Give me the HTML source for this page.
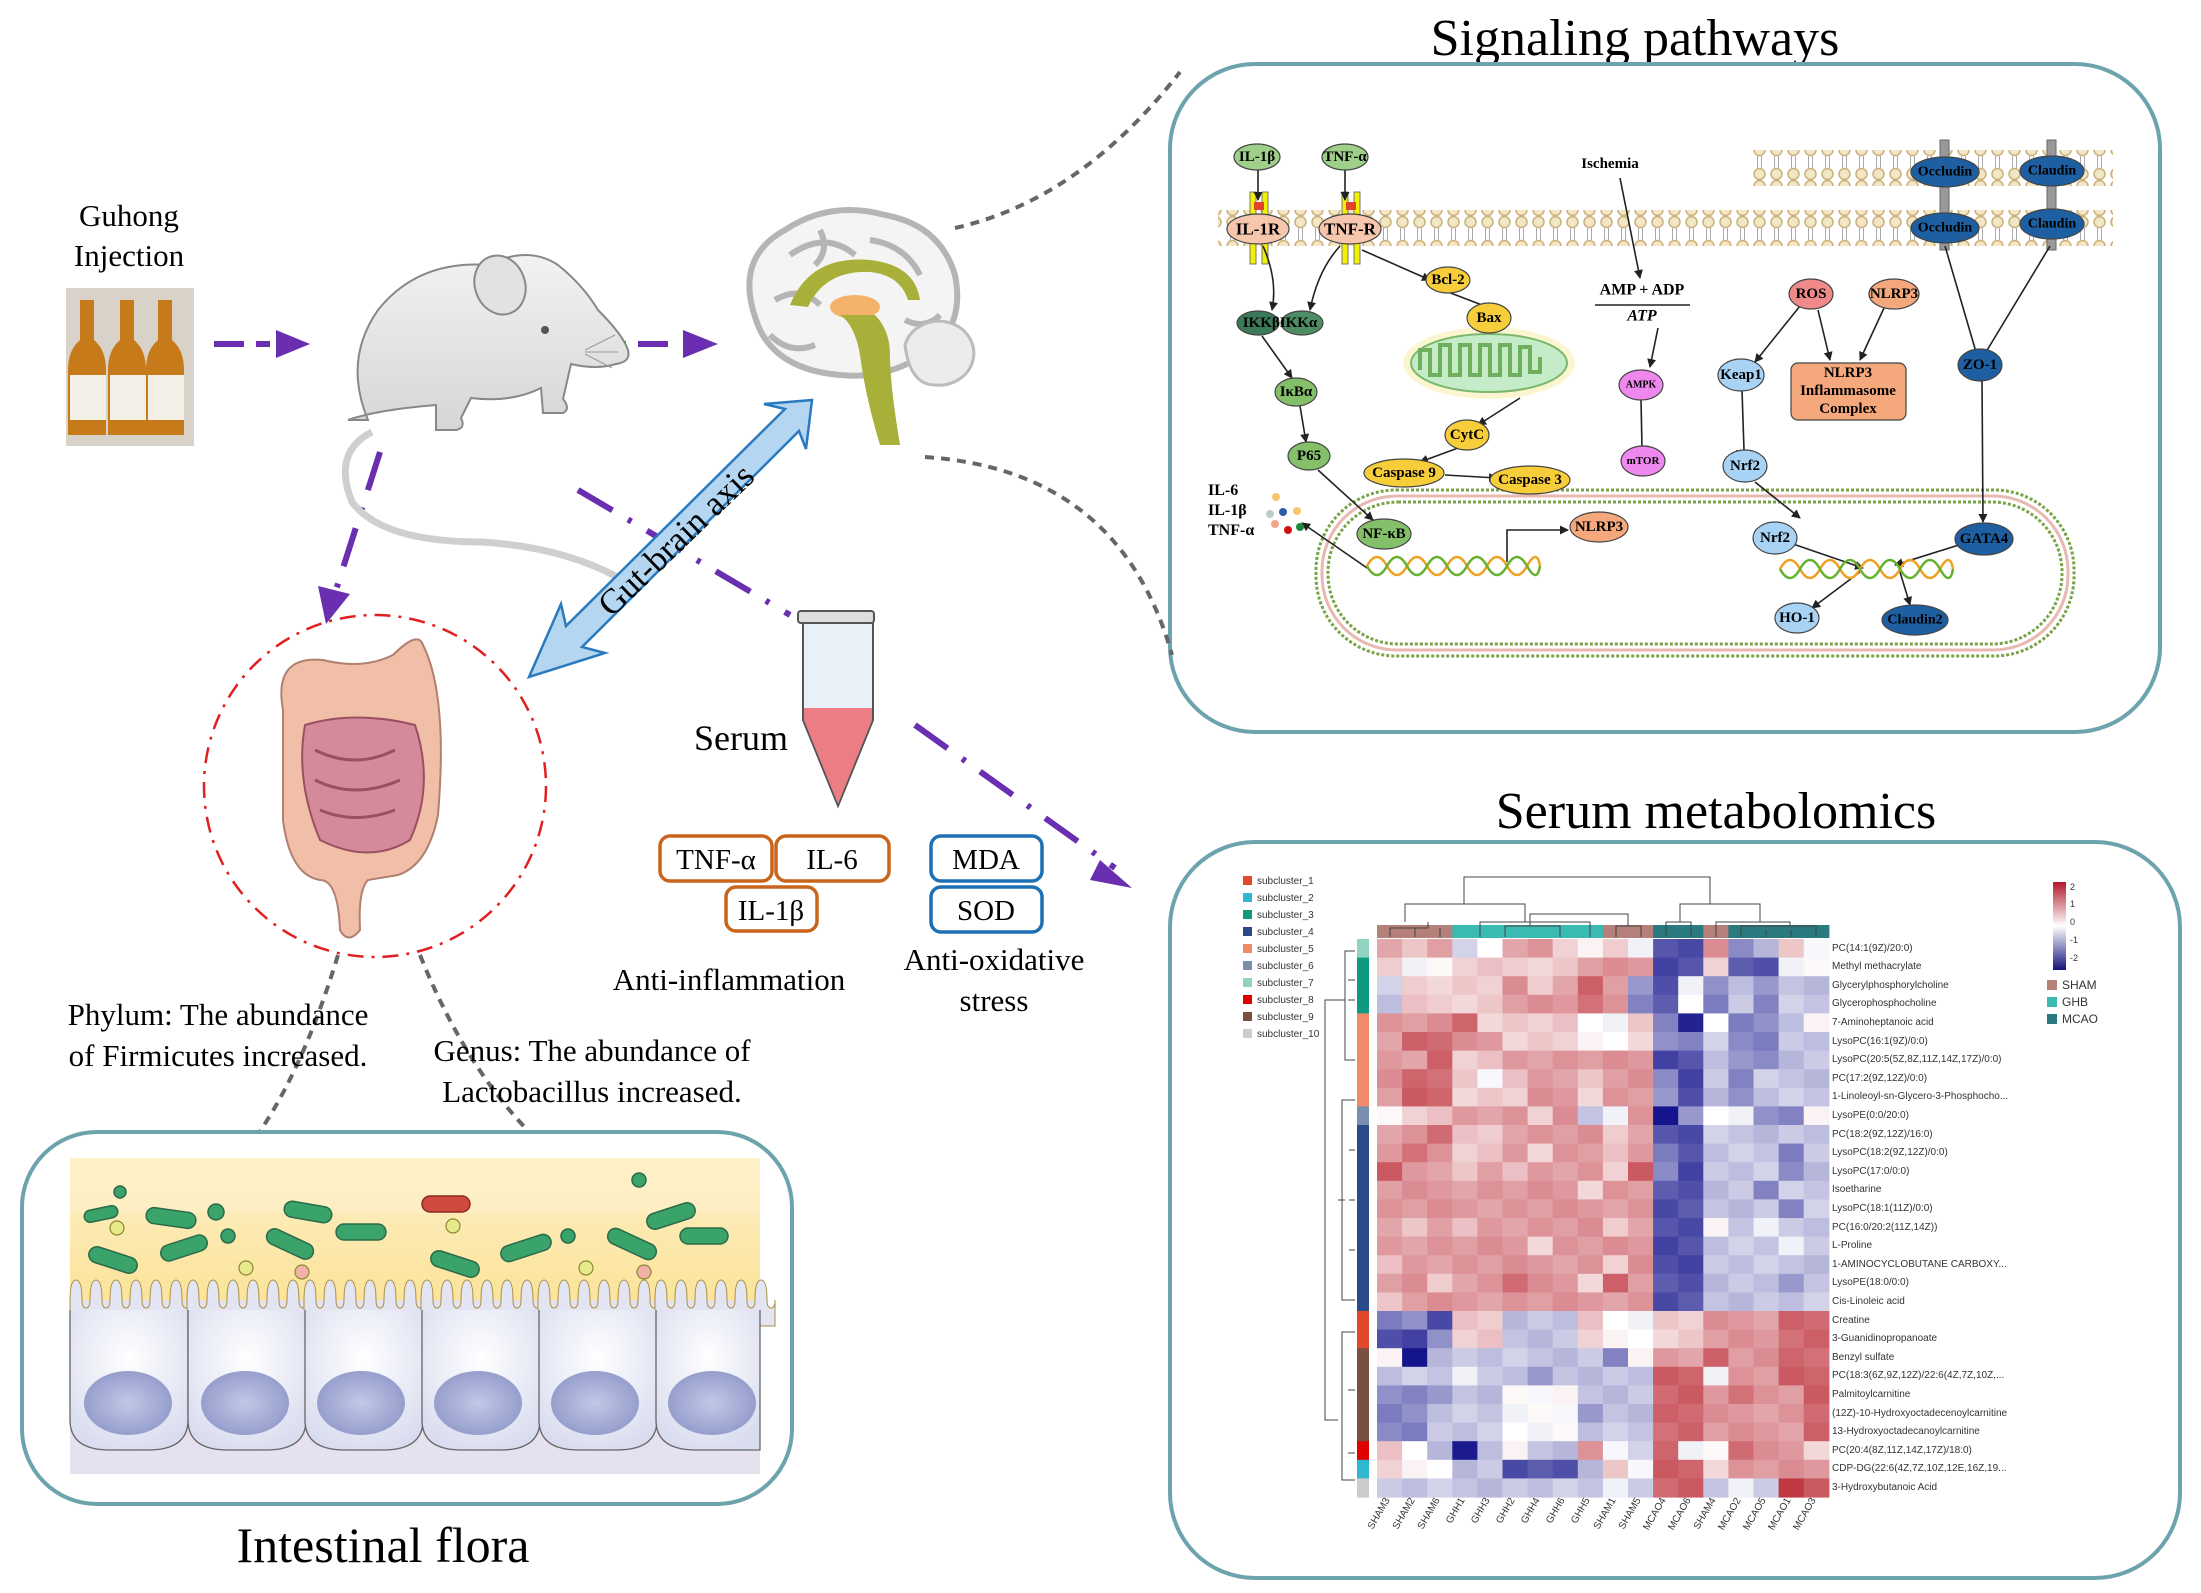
<!DOCTYPE html>
<html><head><meta charset="utf-8">
<style>
html,body{margin:0;padding:0;background:#fff;}
svg{display:block;font-family:"Liberation Serif",serif;}
.s{font-family:"Liberation Sans",sans-serif;}
.nb{font-family:"Liberation Serif",serif;font-weight:bold;font-size:17px;text-anchor:middle;dominant-baseline:central;}
</style></head>
<body>
<svg id="sv" width="2201" height="1593" viewBox="0 0 2201 1593" xmlns="http://www.w3.org/2000/svg">
<defs>
<marker id="ka" markerWidth="9" markerHeight="9" refX="8" refY="4.5" orient="auto" markerUnits="userSpaceOnUse"><path d="M0,0 L9,4.5 L0,9z" fill="#222"/></marker>
<pattern id="lip" x="0" y="0" width="17" height="36" patternUnits="userSpaceOnUse">
<circle cx="8.5" cy="6" r="5.5" fill="#f3e6c4" stroke="#c9b07a" stroke-width="1.5"/>
<circle cx="8.5" cy="30" r="5.5" fill="#f3e6c4" stroke="#c9b07a" stroke-width="1.5"/>
<line x1="6.5" y1="12" x2="6.5" y2="24" stroke="#aaa" stroke-width="1"/><line x1="10.5" y1="12" x2="10.5" y2="24" stroke="#aaa" stroke-width="1"/>
</pattern>
<linearGradient id="muc" x1="0" y1="0" x2="0" y2="1"><stop offset="0" stop-color="#fdf0c8"/><stop offset="0.45" stop-color="#fbe39a"/><stop offset="0.75" stop-color="#f8c73c"/><stop offset="1" stop-color="#f5b800"/></linearGradient>
<radialGradient id="cell" cx="0.5" cy="0.35" r="0.7"><stop offset="0" stop-color="#ffffff"/><stop offset="1" stop-color="#d9dcef"/></radialGradient>
<radialGradient id="nuc" cx="0.5" cy="0.5" r="0.6"><stop offset="0" stop-color="#c2c8e6"/><stop offset="1" stop-color="#8d96c8"/></radialGradient>
<linearGradient id="mb" x1="0" y1="0" x2="0" y2="1"><stop offset="0" stop-color="#f2f2f2"/><stop offset="1" stop-color="#d6d6d6"/></linearGradient>
</defs>

<text x="1635" y="55" font-size="52" text-anchor="middle">Signaling pathways</text>
<text x="1716" y="828" font-size="52" text-anchor="middle">Serum metabolomics</text>
<text x="383" y="1562" font-size="50" text-anchor="middle">Intestinal flora</text>

<rect x="1170" y="64" width="990" height="668" rx="85" fill="#fff" stroke="#6ca3ad" stroke-width="4"/>
<rect x="1218" y="210" width="895" height="36" fill="url(#lip)"/>
<rect x="1750" y="150" width="363" height="36" fill="url(#lip)"/>
<rect x="1316" y="490" width="758" height="166" rx="80" fill="none" stroke="#7aa246" stroke-width="3" stroke-dasharray="3 2"/>
<rect x="1322" y="496" width="746" height="154" rx="75" fill="none" stroke="#e8b9b0" stroke-width="3"/>
<rect x="1328" y="502" width="734" height="142" rx="70" fill="none" stroke="#7aa246" stroke-width="3" stroke-dasharray="3 2"/>
<g fill="#f2f200" stroke="#777" stroke-width="1">
<rect x="1250" y="192" width="6" height="72"/><rect x="1262" y="192" width="6" height="72"/>
<rect x="1342" y="192" width="6" height="72"/><rect x="1354" y="192" width="6" height="72"/>
</g>
<rect x="1254" y="202" width="10" height="8" fill="#e0442a"/><rect x="1346" y="202" width="10" height="8" fill="#e0442a"/>
<rect x="1940" y="140" width="9" height="110" fill="#999" stroke="#666"/>
<rect x="2047" y="140" width="9" height="110" fill="#999" stroke="#666"/>

<ellipse cx="1489" cy="363" rx="86" ry="36" fill="#fbf6d0"/>
<ellipse cx="1489" cy="363" rx="78" ry="29" fill="#c5ecc9" stroke="#7bb86b" stroke-width="2"/>
<path d="M1420,370 v-20 h10 v25 h10 v-30 h10 v30 h10 v-30 h10 v30 h10 v-30 h10 v30 h10 v-30 h10 v30 h10 v-28 h10 v25 h10 v-15" fill="none" stroke="#6fae5a" stroke-width="4"/>

<g stroke="#222" stroke-width="1.6" fill="none" marker-end="url(#ka)">
<line x1="1258" y1="170" x2="1258" y2="200"/>
<line x1="1345" y1="170" x2="1345" y2="200"/>
<path d="M1263,246 Q1278,280 1272,310"/>
<path d="M1340,246 Q1318,270 1310,310"/>
<line x1="1362" y1="250" x2="1430" y2="280"/>
<line x1="1262" y1="336" x2="1292" y2="378"/>
<line x1="1300" y1="406" x2="1306" y2="442"/>
<line x1="1318" y1="470" x2="1373" y2="520"/>
<line x1="1520" y1="398" x2="1478" y2="425"/>
<line x1="1458" y1="448" x2="1420" y2="462"/>
<line x1="1445" y1="475" x2="1497" y2="478"/>
<line x1="1620" y1="178" x2="1640" y2="278"/>
<line x1="1658" y1="328" x2="1650" y2="367"/>
<line x1="1370" y1="570" x2="1302" y2="523"/>
<line x1="1800" y1="306" x2="1755" y2="362"/>
<line x1="1818" y1="310" x2="1830" y2="360"/>
<line x1="1884" y1="308" x2="1860" y2="360"/>
<line x1="1755" y1="482" x2="1800" y2="518"/>
<line x1="1793" y1="544" x2="1863" y2="568"/>
<line x1="1962" y1="544" x2="1895" y2="565"/>
<line x1="1860" y1="572" x2="1812" y2="608"/>
<line x1="1900" y1="572" x2="1910" y2="605"/>
<line x1="1982" y1="380" x2="1983" y2="522"/>
<path d="M1507,562 V530 H1568"/>
</g>
<g stroke="#222" stroke-width="1.6" fill="none">
<line x1="1448" y1="292" x2="1482" y2="305"/>
<line x1="1641" y1="400" x2="1642" y2="448"/><line x1="1634" y1="448" x2="1650" y2="448"/>
<line x1="1742" y1="390" x2="1744" y2="450"/><line x1="1736" y1="451" x2="1752" y2="451"/>
<line x1="1945" y1="246" x2="1976" y2="352"/>
<line x1="2050" y1="246" x2="1986" y2="352"/>
<line x1="1595" y1="305" x2="1690" y2="305"/>
</g>

<g fill="none" stroke-width="2.5">
<path d="M1367,566 q10,-18 20,0 t20,0 t20,0 t20,0 t20,0 t20,0 t20,0 t20,0 t13,0" stroke="#f0a020"/>
<path d="M1367,566 q10,18 20,0 t20,0 t20,0 t20,0 t20,0 t20,0 t20,0 t20,0 t13,0" stroke="#68b030"/>
<path d="M1780,569 q10,-18 20,0 t20,0 t20,0 t20,0 t20,0 t20,0 t20,0 t20,0 t13,0" stroke="#f0a020"/>
<path d="M1780,569 q10,18 20,0 t20,0 t20,0 t20,0 t20,0 t20,0 t20,0 t20,0 t13,0" stroke="#68b030"/>
</g>
<g><circle cx="1276" cy="497" r="4" fill="#f6c56a"/><circle cx="1283" cy="512" r="4" fill="#2a5fa8"/><circle cx="1270" cy="514" r="4" fill="#bcc"/><circle cx="1297" cy="511" r="4" fill="#f6c56a"/><circle cx="1275" cy="524" r="4" fill="#f2a585"/><circle cx="1288" cy="530" r="4" fill="#d01010"/><circle cx="1300" cy="527" r="4" fill="#1a8a3a"/></g>
<text x="1208" y="495" font-size="16" font-weight="bold">IL-6</text>
<text x="1208" y="515" font-size="16" font-weight="bold">IL-1β</text>
<text x="1208" y="535" font-size="16" font-weight="bold">TNF-α</text>

<g stroke="#444" stroke-width="1.2">
<ellipse cx="1257" cy="157" rx="23" ry="13" fill="#9fd08a"/>
<ellipse cx="1345" cy="157" rx="23" ry="13" fill="#9fd08a"/>
<ellipse cx="1258" cy="229" rx="31" ry="15" fill="#f6c7ad"/>
<ellipse cx="1350" cy="229" rx="31" ry="15" fill="#f6c7ad"/>
<ellipse cx="1258" cy="323" rx="21" ry="12" fill="#3b7a58"/>
<ellipse cx="1302" cy="323" rx="21" ry="12" fill="#4e8d64"/>
<ellipse cx="1296" cy="392" rx="21" ry="14" fill="#84c06a"/>
<ellipse cx="1309" cy="456" rx="21" ry="14" fill="#84c06a"/>
<ellipse cx="1384" cy="534" rx="27" ry="15" fill="#84c06a"/>
<ellipse cx="1448" cy="280" rx="22" ry="13" fill="#f7cd3a"/>
<ellipse cx="1489" cy="318" rx="22" ry="15" fill="#f7cd3a"/>
<ellipse cx="1467" cy="435" rx="22" ry="15" fill="#f7cd3a"/>
<ellipse cx="1404" cy="473" rx="40" ry="14" fill="#f7cd3a"/>
<ellipse cx="1530" cy="480" rx="40" ry="14" fill="#f7cd3a"/>
<ellipse cx="1641" cy="385" rx="22" ry="15" fill="#ee88ee"/>
<ellipse cx="1643" cy="461" rx="22" ry="15" fill="#ee88ee"/>
<ellipse cx="1599" cy="527" rx="29" ry="15" fill="#f4a87c"/>
<ellipse cx="1811" cy="294" rx="22" ry="15" fill="#f08a8a"/>
<ellipse cx="1894" cy="294" rx="25" ry="15" fill="#f4a87c"/>
<rect x="1791" y="363" width="115" height="57" rx="7" fill="#f4a87c"/>
<ellipse cx="1741" cy="375" rx="23" ry="16" fill="#a9d3f5"/>
<ellipse cx="1745" cy="466" rx="22" ry="16" fill="#a9d3f5"/>
<ellipse cx="1775" cy="538" rx="22" ry="16" fill="#a9d3f5"/>
<ellipse cx="1797" cy="618" rx="22" ry="15" fill="#a9d3f5"/>
<ellipse cx="1915" cy="620" rx="33" ry="15" fill="#1d5fa0"/>
<ellipse cx="1984" cy="539" rx="29" ry="16" fill="#1d5fa0"/>
<ellipse cx="1980" cy="365" rx="22" ry="16" fill="#1d5fa0"/>
<ellipse cx="1945" cy="172" rx="34" ry="15" fill="#1d5fa0"/>
<ellipse cx="1945" cy="228" rx="34" ry="15" fill="#1d5fa0"/>
<ellipse cx="2052" cy="171" rx="32" ry="15" fill="#1d5fa0"/>
<ellipse cx="2052" cy="224" rx="32" ry="15" fill="#1d5fa0"/>
</g>
<g class="nb">
<text x="1257" y="157" font-size="15">IL-1β</text>
<text x="1345" y="157" font-size="15">TNF-α</text>
<text x="1258" y="229">IL-1R</text>
<text x="1350" y="229">TNF-R</text>
<text x="1280" y="323" font-size="15">IKKβIKKα</text>
<text x="1296" y="392" font-size="15">IκBα</text>
<text x="1309" y="456" font-size="15">P65</text>
<text x="1384" y="534" font-size="15">NF-κB</text>
<text x="1448" y="280" font-size="15">Bcl-2</text>
<text x="1489" y="318" font-size="15">Bax</text>
<text x="1467" y="435" font-size="15">CytC</text>
<text x="1404" y="473" font-size="15">Caspase 9</text>
<text x="1530" y="480" font-size="15">Caspase 3</text>
<text x="1641" y="385" font-size="10">AMPK</text>
<text x="1643" y="461" font-size="11">mTOR</text>
<text x="1599" y="527" font-size="15">NLRP3</text>
<text x="1811" y="294" font-size="15">ROS</text>
<text x="1894" y="294" font-size="15">NLRP3</text>
<text x="1848" y="373" font-size="15">NLRP3</text>
<text x="1848" y="391" font-size="15">Inflammasome</text>
<text x="1848" y="409" font-size="15">Complex</text>
<text x="1741" y="375" font-size="15">Keap1</text>
<text x="1745" y="466" font-size="15">Nrf2</text>
<text x="1775" y="538" font-size="15">Nrf2</text>
<text x="1797" y="618" font-size="15">HO-1</text>
<text x="1915" y="620" font-size="14">Claudin2</text>
<text x="1984" y="539" font-size="15">GATA4</text>
<text x="1980" y="365" font-size="15">ZO-1</text>
<text x="1945" y="172" font-size="14">Occludin</text>
<text x="1945" y="228" font-size="14">Occludin</text>
<text x="2052" y="171" font-size="14">Claudin</text>
<text x="2052" y="224" font-size="14">Claudin</text>
<text x="1610" y="164" font-size="15">Ischemia</text>
<text x="1642" y="290" font-size="16">AMP + ADP</text>
<text x="1642" y="316" font-size="16" font-style="italic">ATP</text>
</g>

<rect x="1170" y="842" width="1010" height="736" rx="85" fill="#fff" stroke="#6ca3ad" stroke-width="4"/>
<g id="hm"></g>
<g class="s" font-size="10" fill="#333">
<rect x="1243" y="876" width="9" height="9" fill="#e04a2a"/><text x="1257" y="884">subcluster_1</text>
<rect x="1243" y="893" width="9" height="9" fill="#30b8d0"/><text x="1257" y="901">subcluster_2</text>
<rect x="1243" y="910" width="9" height="9" fill="#0f9a80"/><text x="1257" y="918">subcluster_3</text>
<rect x="1243" y="927" width="9" height="9" fill="#2a4a8a"/><text x="1257" y="935">subcluster_4</text>
<rect x="1243" y="944" width="9" height="9" fill="#f08a6a"/><text x="1257" y="952">subcluster_5</text>
<rect x="1243" y="961" width="9" height="9" fill="#7a8fb0"/><text x="1257" y="969">subcluster_6</text>
<rect x="1243" y="978" width="9" height="9" fill="#8fd3c0"/><text x="1257" y="986">subcluster_7</text>
<rect x="1243" y="995" width="9" height="9" fill="#e00000"/><text x="1257" y="1003">subcluster_8</text>
<rect x="1243" y="1012" width="9" height="9" fill="#7a5040"/><text x="1257" y="1020">subcluster_9</text>
<rect x="1243" y="1029" width="9" height="9" fill="#cccccc"/><text x="1257" y="1037">subcluster_10</text>
</g>
<defs><linearGradient id="cs" x1="0" y1="0" x2="0" y2="1"><stop offset="0" stop-color="#b2182b"/><stop offset="0.5" stop-color="#ffffff"/><stop offset="1" stop-color="#14147e"/></linearGradient></defs>
<rect x="2053" y="882" width="13" height="88" fill="url(#cs)"/>
<g class="s" font-size="9" fill="#333"><text x="2070" y="890">2</text><text x="2070" y="907">1</text><text x="2070" y="925">0</text><text x="2070" y="943">-1</text><text x="2070" y="961">-2</text></g>
<g class="s" font-size="12" fill="#333">
<rect x="2047" y="980" width="10" height="10" fill="#b57f7a"/><text x="2062" y="989">SHAM</text>
<rect x="2047" y="997" width="10" height="10" fill="#3bbab2"/><text x="2062" y="1006">GHB</text>
<rect x="2047" y="1014" width="10" height="10" fill="#2a7a80"/><text x="2062" y="1023">MCAO</text>
</g>
<g class="s" font-size="10" fill="#333">
<text x="1832" y="951">PC(14:1(9Z)/20:0)</text>
<text x="1832" y="969">Methyl methacrylate</text>
<text x="1832" y="988">Glycerylphosphorylcholine</text>
<text x="1832" y="1006">Glycerophosphocholine</text>
<text x="1832" y="1025">7-Aminoheptanoic acid</text>
<text x="1832" y="1044">LysoPC(16:1(9Z)/0:0)</text>
<text x="1832" y="1062">LysoPC(20:5(5Z,8Z,11Z,14Z,17Z)/0:0)</text>
<text x="1832" y="1081">PC(17:2(9Z,12Z)/0:0)</text>
<text x="1832" y="1099">1-Linoleoyl-sn-Glycero-3-Phosphocho...</text>
<text x="1832" y="1118">LysoPE(0:0/20:0)</text>
<text x="1832" y="1137">PC(18:2(9Z,12Z)/16:0)</text>
<text x="1832" y="1155">LysoPC(18:2(9Z,12Z)/0:0)</text>
<text x="1832" y="1174">LysoPC(17:0/0:0)</text>
<text x="1832" y="1192">Isoetharine</text>
<text x="1832" y="1211">LysoPC(18:1(11Z)/0:0)</text>
<text x="1832" y="1230">PC(16:0/20:2(11Z,14Z))</text>
<text x="1832" y="1248">L-Proline</text>
<text x="1832" y="1267">1-AMINOCYCLOBUTANE CARBOXY...</text>
<text x="1832" y="1285">LysoPE(18:0/0:0)</text>
<text x="1832" y="1304">Cis-Linoleic acid</text>
<text x="1832" y="1323">Creatine</text>
<text x="1832" y="1341">3-Guanidinopropanoate</text>
<text x="1832" y="1360">Benzyl sulfate</text>
<text x="1832" y="1378">PC(18:3(6Z,9Z,12Z)/22:6(4Z,7Z,10Z,...</text>
<text x="1832" y="1397">Palmitoylcarnitine</text>
<text x="1832" y="1416">(12Z)-10-Hydroxyoctadecenoylcarnitine</text>
<text x="1832" y="1434">13-Hydroxyoctadecanoylcarnitine</text>
<text x="1832" y="1453">PC(20:4(8Z,11Z,14Z,17Z)/18:0)</text>
<text x="1832" y="1471">CDP-DG(22:6(4Z,7Z,10Z,12E,16Z,19...</text>
<text x="1832" y="1490">3-Hydroxybutanoic Acid</text>
</g>
<g class="s" font-size="10" fill="#333">
<text transform="translate(1390,1500) rotate(-60)" text-anchor="end">SHAM3</text>
<text transform="translate(1415,1500) rotate(-60)" text-anchor="end">SHAM2</text>
<text transform="translate(1440,1500) rotate(-60)" text-anchor="end">SHAM6</text>
<text transform="translate(1465,1500) rotate(-60)" text-anchor="end">GHH1</text>
<text transform="translate(1490,1500) rotate(-60)" text-anchor="end">GHH3</text>
<text transform="translate(1515,1500) rotate(-60)" text-anchor="end">GHH2</text>
<text transform="translate(1540,1500) rotate(-60)" text-anchor="end">GHH4</text>
<text transform="translate(1565,1500) rotate(-60)" text-anchor="end">GHH6</text>
<text transform="translate(1590,1500) rotate(-60)" text-anchor="end">GHH5</text>
<text transform="translate(1616,1500) rotate(-60)" text-anchor="end">SHAM1</text>
<text transform="translate(1641,1500) rotate(-60)" text-anchor="end">SHAM5</text>
<text transform="translate(1666,1500) rotate(-60)" text-anchor="end">MCAO4</text>
<text transform="translate(1691,1500) rotate(-60)" text-anchor="end">MCAO6</text>
<text transform="translate(1716,1500) rotate(-60)" text-anchor="end">SHAM4</text>
<text transform="translate(1741,1500) rotate(-60)" text-anchor="end">MCAO2</text>
<text transform="translate(1766,1500) rotate(-60)" text-anchor="end">MCAO5</text>
<text transform="translate(1791,1500) rotate(-60)" text-anchor="end">MCAO1</text>
<text transform="translate(1816,1500) rotate(-60)" text-anchor="end">MCAO3</text>
</g>
<g stroke="#444" stroke-width="1" fill="none">
<path d="M1464,904 V877 H1710 V904"/>
<path d="M1405,922 V904 H1525 V922"/>
<path d="M1390,937 V928 H1428 V922"/><path d="M1415,937 V928"/><path d="M1440,937 V928"/>
<path d="M1480,937 V922 H1590 V937"/><path d="M1505,937 V926 H1560 V937"/>
<path d="M1616,937 V926 H1641 V937"/><path d="M1530,926 V914 H1628 V926"/>
<path d="M1680,922 V904 H1760 V922"/><path d="M1666,937 V922 H1691 V937"/>
<path d="M1716,937 V922 H1790 V926"/><path d="M1741,937 V926 H1816 V937"/><path d="M1766,937 V930"/><path d="M1791,937 V930"/>
</g>
<g stroke="#444" stroke-width="1" fill="none">
<path d="M1338,1000 H1325 V1420 H1338"/>
<path d="M1355,951 H1345 V1060 H1355"/><path d="M1355,980 H1348"/><path d="M1355,1000 H1348"/>
<path d="M1338,1000 H1345"/><path d="M1345,1200 H1338"/>
<path d="M1355,1100 H1342 V1300 H1355"/><path d="M1355,1200 H1349"/><path d="M1355,1150 H1349"/><path d="M1355,1250 H1349"/>
<path d="M1355,1332 H1342 V1480 H1355"/><path d="M1355,1390 H1348"/><path d="M1355,1453 H1348"/>
</g>
<g stroke="#666" stroke-width="4" fill="none" stroke-dasharray="9 7">
<path d="M955,228 Q1080,200 1180,72"/>
<path d="M925,457 Q1120,470 1172,655"/>
<path d="M338,955 Q300,1080 248,1148"/>
<path d="M420,955 Q470,1080 548,1150"/>
</g>

<rect x="22" y="1132" width="770" height="372" rx="75" fill="#fff" stroke="#6ca3ad" stroke-width="4"/>
<rect x="70" y="1158" width="690" height="316" fill="url(#muc)"/>
<rect x="70" y="1158" width="690" height="55" fill="#fdf0c8" opacity="0.7"/>
<rect x="70" y="1300" width="690" height="174" fill="#e5e1ee"/>
<path id="vl" d="M70,1300 q0,-20 6,-20 q6,0 6,20 q0,8 4,8 q4,0 4,-8 q0,-20 6,-20 q6,0 6,20 q0,8 4,8 q4,0 4,-8 q0,-20 6,-20 q6,0 6,20 q0,8 4,8 q4,0 4,-8 q0,-20 6,-20 q6,0 6,20 q0,8 4,8 q4,0 4,-8 q0,-20 6,-20 q6,0 6,20 q0,8 4,8 q4,0 4,-8 q0,-20 6,-20 q6,0 6,20 q0,8 4,8 q4,0 4,-8 V1326 H70z" fill="#e3e6f2" stroke="#a89040" stroke-width="1"/>
<use href="#vl" x="117"/><use href="#vl" x="234"/><use href="#vl" x="351"/><use href="#vl" x="468"/><use href="#vl" x="585"/>
<g stroke="#666" stroke-width="1.3">
<path d="M70,1310 V1420 q0,30 40,30 h38 q40,0 40,-30 V1310" fill="url(#cell)"/>
<path d="M188,1310 V1420 q0,30 40,30 h38 q40,0 40,-30 V1310" fill="url(#cell)"/>
<path d="M305,1310 V1420 q0,30 40,30 h38 q40,0 40,-30 V1310" fill="url(#cell)"/>
<path d="M422,1310 V1420 q0,30 40,30 h38 q40,0 40,-30 V1310" fill="url(#cell)"/>
<path d="M539,1310 V1420 q0,30 40,30 h38 q40,0 40,-30 V1310" fill="url(#cell)"/>
<path d="M656,1310 V1420 q0,30 40,30 h64 V1310" fill="url(#cell)"/>
</g>
<g fill="url(#nuc)">
<ellipse cx="128" cy="1403" rx="44" ry="32"/><ellipse cx="245" cy="1403" rx="44" ry="32"/><ellipse cx="361" cy="1403" rx="44" ry="32"/><ellipse cx="478" cy="1403" rx="44" ry="32"/><ellipse cx="595" cy="1403" rx="44" ry="32"/><ellipse cx="712" cy="1403" rx="44" ry="32"/>
</g>
<g fill="#3aa36a" stroke="#2a6a4a" stroke-width="1.5">
<rect x="84" y="1208" width="34" height="12" rx="6" transform="rotate(-12 101 1214)"/>
<rect x="146" y="1210" width="50" height="16" rx="8" transform="rotate(8 171 1218)"/>
<rect x="160" y="1240" width="48" height="16" rx="8" transform="rotate(-18 184 1248)"/>
<rect x="88" y="1252" width="50" height="16" rx="8" transform="rotate(18 113 1260)"/>
<rect x="284" y="1204" width="48" height="16" rx="8" transform="rotate(10 308 1212)"/>
<rect x="265" y="1236" width="50" height="16" rx="8" transform="rotate(25 290 1244)"/>
<rect x="336" y="1224" width="50" height="16" rx="8"/>
<rect x="430" y="1256" width="50" height="16" rx="8" transform="rotate(18 455 1264)"/>
<rect x="500" y="1240" width="52" height="16" rx="8" transform="rotate(-18 526 1248)"/>
<rect x="606" y="1236" width="52" height="16" rx="8" transform="rotate(25 632 1244)"/>
<rect x="646" y="1208" width="50" height="16" rx="8" transform="rotate(-18 671 1216)"/>
<rect x="680" y="1228" width="48" height="16" rx="8"/>
<circle cx="120" cy="1192" r="6"/><circle cx="216" cy="1212" r="8"/><circle cx="228" cy="1236" r="7"/><circle cx="568" cy="1236" r="7"/><circle cx="639" cy="1180" r="7"/>
</g>
<rect x="422" y="1196" width="48" height="16" rx="8" fill="#d04a40" stroke="#8a2a20" stroke-width="1.5"/>
<g stroke="#8a8a30" stroke-width="1.2"><circle cx="117" cy="1228" r="7" fill="#e6ea8a"/><circle cx="246" cy="1268" r="7" fill="#e6ea8a"/><circle cx="453" cy="1226" r="7" fill="#e6ea8a"/><circle cx="586" cy="1268" r="7" fill="#e6ea8a"/><circle cx="302" cy="1272" r="7" fill="#f2b0a8"/><circle cx="644" cy="1272" r="7" fill="#f2b0a8"/></g>

<text x="129" y="226" font-size="31" text-anchor="middle">Guhong</text>
<text x="129" y="266" font-size="31" text-anchor="middle">Injection</text>
<rect x="66" y="288" width="128" height="158" fill="#d8d2c8"/>
<g>
<path d="M80,300 h14 v40 q12,10 12,30 v65 h-38 v-65 q0,-20 12,-30z" fill="#c77a1a"/>
<path d="M120,300 h14 v40 q12,10 12,30 v65 h-38 v-65 q0,-20 12,-30z" fill="#c77a1a"/>
<path d="M158,300 h14 v40 q12,10 12,30 v65 h-38 v-65 q0,-20 12,-30z" fill="#c77a1a"/>
<rect x="70" y="375" width="36" height="45" fill="#f2efe6"/><rect x="110" y="375" width="36" height="45" fill="#f2efe6"/><rect x="148" y="375" width="36" height="45" fill="#f2efe6"/>
</g>
<g stroke="#6a2fb0" stroke-width="6" fill="none" stroke-dasharray="30 12">
<line x1="214" y1="344" x2="270" y2="344"/>
<line x1="596" y1="344" x2="680" y2="344"/>
</g>
<path d="M276,330 L310,344 L276,358z" fill="#6a2fb0"/>
<path d="M683,330 L718,344 L683,358z" fill="#6a2fb0"/>
<g stroke="#6a2fb0" stroke-width="6" fill="none" stroke-dasharray="40 18 4 18">
<line x1="380" y1="452" x2="336" y2="590"/>
<line x1="578" y1="490" x2="790" y2="615"/>
<line x1="915" y1="725" x2="1115" y2="868"/>
</g>
<path d="M318,586 L350,594 L326,624z" fill="#6a2fb0"/>
<path d="M1100,860 L1132,888 L1090,880z" fill="#6a2fb0"/>
<!-- mouse -->
<g stroke="#888" stroke-width="2">
<path d="M372,432 q-40,20 -20,70 q30,40 130,40 q80,5 135,35" fill="none" stroke="#cfcfcf" stroke-width="7"/>
<path d="M368,420 q-25,-60 10,-110 q40,-50 110,-45 q40,-20 70,0 q25,20 40,45 q25,25 30,40 q3,12 -12,14 q-20,6 -45,0 l-8,35 q8,10 0,14 h-20 l-2,-25 q-30,15 -70,10 l-10,20 q5,10 -5,12 h-20 l0,-25 q-60,5 -88,15z" fill="url(#mb)"/>
<ellipse cx="500" cy="285" rx="25" ry="30" fill="#e2e2e2" transform="rotate(-20 500 285)"/>
</g>
<circle cx="545" cy="330" r="4" fill="#555"/>
<g stroke="#999" stroke-width="1"><line x1="585" y1="350" x2="615" y2="335"/><line x1="585" y1="352" x2="618" y2="352"/><line x1="585" y1="354" x2="612" y2="368"/></g>
<!-- brain -->
<g>
<path d="M760,330 q-30,-70 25,-100 q45,-30 100,-15 q55,10 70,60 q10,50 -25,75 q-40,30 -90,25 q-60,-5 -80,-45z" fill="#f4f4f4" stroke="#b5b5b5" stroke-width="6"/>
<path d="M775,300 q25,-15 45,5 M790,255 q35,-25 65,0 M870,240 q35,5 50,35 M770,335 q20,20 45,10 M905,320 q20,10 35,-5 M820,230 q10,20 -5,35" stroke="#b5b5b5" stroke-width="6" fill="none"/>
<path d="M790,305 q20,-50 80,-45 q45,5 50,40 l-12,0 q-8,-25 -38,-28 q-45,-2 -62,35z" fill="#a9b03a"/>
<ellipse cx="855" cy="307" rx="25" ry="12" fill="#f5b26a"/>
<path d="M840,315 q15,10 20,40 q5,40 20,90 l20,0 q-10,-60 -10,-90 q0,-25 -15,-40z" fill="#a9b03a"/>
<path d="M905,345 a35,32 0 1,1 30,40 q-25,0 -30,-40z" fill="#ececec" stroke="#bbb" stroke-width="3"/>
</g>
<path d="M529,677 L561,604 L566,626 L785,409 L764,404 L812,400 L806,449 L799,431 L582,647 L605,653 Z" fill="#b5d6f0" stroke="#2a7ac0" stroke-width="2.5"/>
<text transform="translate(676,540) rotate(-44)" font-size="35" text-anchor="middle" dominant-baseline="central">Gut-brain axis</text>
<circle cx="375" cy="786" r="171" fill="none" stroke="#e02020" stroke-width="2.5" stroke-dasharray="16 8 3 8"/>
<g>
<path d="M283,710 q-10,-55 40,-50 q40,10 70,-5 q25,-25 30,-10 q25,50 15,170 q-10,50 -40,60 l-30,5 q-10,10 -8,50 q-12,15 -20,0 q-2,-50 -20,-50 q-30,-5 -37,-60z" fill="#f1bfa8" stroke="#b08070" stroke-width="2"/>
<path d="M305,725 q50,-15 110,0 q20,60 -5,115 q-40,25 -90,0 q-25,-60 -15,-115z" fill="#d48a9a" stroke="#9a5060" stroke-width="2"/>
<path d="M315,750 q40,20 80,0 M315,780 q40,20 85,0 M320,810 q35,15 75,0" stroke="#9a5060" stroke-width="3" fill="none"/>
</g>
<rect x="798" y="611" width="76" height="12" rx="3" fill="#ddd" stroke="#555" stroke-width="2"/>
<path d="M803,623 V720 L838,806 L873,720 V623z" fill="#e8f1f8" stroke="#555" stroke-width="2"/>
<path d="M804,708 H872 V720 L838,804 L804,720z" fill="#ec7d84"/>
<text x="741" y="750" font-size="36" text-anchor="middle">Serum</text>
<g fill="#fff" stroke-width="3.5">
<rect x="660" y="836" width="112" height="45" rx="10" stroke="#c8651b"/>
<rect x="776" y="836" width="113" height="45" rx="10" stroke="#c8651b"/>
<rect x="726" y="887" width="91" height="44" rx="10" stroke="#c8651b"/>
<rect x="931" y="836" width="111" height="45" rx="10" stroke="#1f6fb5"/>
<rect x="931" y="887" width="111" height="45" rx="10" stroke="#1f6fb5"/>
</g>
<g font-size="29" text-anchor="middle">
<text x="716" y="869">TNF-α</text><text x="832" y="869">IL-6</text><text x="771" y="920">IL-1β</text>
<text x="986" y="869">MDA</text><text x="986" y="920">SOD</text>
</g>
<g font-size="31" text-anchor="middle">
<text x="729" y="990">Anti-inflammation</text>
<text x="994" y="970">Anti-oxidative</text><text x="994" y="1011">stress</text>
<text x="218" y="1025">Phylum: The abundance</text><text x="218" y="1066">of Firmicutes increased.</text>
<text x="592" y="1061">Genus: The abundance of</text><text x="592" y="1102">Lactobacillus increased.</text>
</g>
</svg>
<script>
(function(){
var R=["656346654541162354","544555556661151144","355556567621423233","355556667621423233","666755554452042234","677665554452232233","667556666661132233","677545665662132333","677555665662132333","455666563460244224",
"667556666561133333","676556566562133323","766565666572133323","666666665661133233","666666666661133323","656566666561143433","666666566661133343","566666666561133333","665667665761133323","566666666661133333",
"221553335445566677","112553335445566677","403333333246676677","333433233337746677","222334443337767667","223334442337766667","223334443337766667","543034336437447665","544331113547756666","333333333437734387"];
var g=document.getElementById("hm"),x0=1377,y0=939,cw=25.1,rh=18.6,h="";
function col(v,i,j){v=v+((i*7+j*13)%5-2)*0.12;var t,r,gg,b;if(v>=4){t=Math.min(1,(v-4)/4);r=255-65*t;gg=255-205*t;b=255-195*t;}else{t=Math.min(1,(4-v)/4);r=255-235*t;gg=255-235*t;b=255-115*t;}return "rgb("+Math.round(r)+","+Math.round(gg)+","+Math.round(b)+")";}
for(var i=0;i<30;i++)for(var j=0;j<18;j++)h+='<rect x="'+(x0+j*cw).toFixed(1)+'" y="'+(y0+i*rh).toFixed(1)+'" width="'+(cw+0.6).toFixed(1)+'" height="'+(rh+0.6).toFixed(1)+'" fill="'+col(+R[i][j],i,j)+'"/>';
var gc=["#b57f7a","#b57f7a","#b57f7a","#3bbab2","#3bbab2","#3bbab2","#3bbab2","#3bbab2","#3bbab2","#b57f7a","#b57f7a","#2a7a80","#2a7a80","#b57f7a","#2a7a80","#2a7a80","#2a7a80","#2a7a80"];
for(var j=0;j<18;j++)h+='<rect x="'+(x0+j*cw).toFixed(1)+'" y="925" width="'+(cw+0.6).toFixed(1)+'" height="13" fill="'+gc[j]+'"/>';
var sc=["#8fd3c0","#0f9a80","#0f9a80","#0f9a80","#f08a6a","#f08a6a","#f08a6a","#f08a6a","#f08a6a","#7a8fb0","#2a4a8a","#2a4a8a","#2a4a8a","#2a4a8a","#2a4a8a","#2a4a8a","#2a4a8a","#2a4a8a","#2a4a8a","#2a4a8a","#e04a2a","#e04a2a","#7a5040","#7a5040","#7a5040","#7a5040","#7a5040","#e00000","#30b8d0","#cccccc"];
for(var i=0;i<30;i++)h+='<rect x="1357" y="'+(y0+i*rh).toFixed(1)+'" width="12" height="'+(rh+0.6).toFixed(1)+'" fill="'+sc[i]+'"/>';
g.innerHTML=h;
})();
</script>
</body></html>
